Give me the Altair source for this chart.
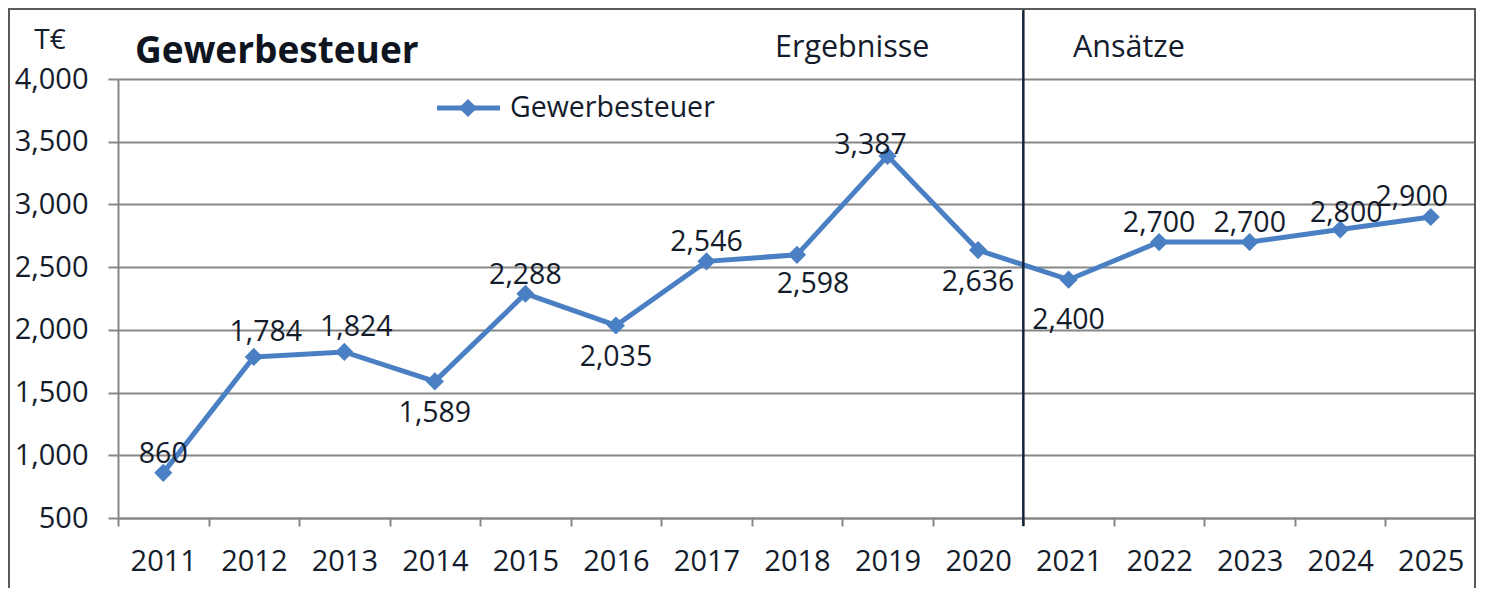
import altair as alt
import pandas as pd

years = ["2011", "2012", "2013", "2014", "2015", "2016", "2017", "2018",
         "2019", "2020", "2021", "2022", "2023", "2024", "2025"]
values = [860, 1784, 1824, 1589, 2288, 2035, 2546, 2598,
          3387, 2636, 2400, 2700, 2700, 2800, 2900]
label_side = ["above", "above_r", "above_r", "below", "above", "below", "above", "below_r",
              "peak", "below", "below_far", "above", "above", "above_s", "left"]
y_ticks = [500, 1000, 1500, 2000, 2500, 3000, 3500, 4000]
series_name = "Gewerbesteuer"
title_text = "Gewerbesteuer"
unit_text = "T€"
split_year = "2021"
left_section = "Ergebnisse"
right_section = "Ansätze"

df = pd.DataFrame({"year": years, "value": values, "side": label_side})

FONT = "Open Sans"
TXT = "#141c2c"
GRID = "#878787"
BLUE = "#4a80c3"

xscale = alt.Scale(type="band", domain=years, paddingInner=0, paddingOuter=0)
yscale = alt.Scale(domain=[500, 4000], nice=False, zero=False)

xaxis = alt.Axis(title=None, tickBand="extent", grid=False, labelAngle=0,
                 labelFont=FONT, labelFontSize=29, labelColor=TXT,
                 labelPadding=21, tickSize=8, tickColor=GRID, tickWidth=2,
                 domainColor=GRID, domainWidth=2)
yaxis = alt.Axis(title=None, values=y_ticks, format=",.0f", grid=True,
                 gridColor=GRID, gridWidth=2, labelFont=FONT, labelFontSize=29,
                 labelColor=TXT, labelPadding=20, tickSize=10, tickColor=GRID,
                 tickWidth=2, domainColor=GRID, domainWidth=2)

base = alt.Chart(df)

xenc = alt.X("year:N", scale=xscale, axis=xaxis, bandPosition=0.5)
yenc = alt.Y("value:Q", scale=yscale, axis=yaxis)

line = base.mark_line(color=BLUE, strokeWidth=5).encode(x=xenc, y=yenc)
pts = base.mark_point(shape="diamond", filled=True, color=BLUE, size=330,
                      opacity=1).encode(x=xenc, y=yenc)

xe = alt.X("year:N", bandPosition=0.5)
ye = alt.Y("value:Q")
lab_kw = dict(font=FONT, fontSize=28.5, color=TXT, baseline="middle")


def labels(side, dx, dy):
    return base.transform_filter(alt.datum.side == side).mark_text(
        dx=dx, dy=dy, **lab_kw).encode(
        x=xe, y=ye, text=alt.Text("value:Q", format=",.0f"))


lab_layers = [
    labels("above", 0, -19),
    labels("above_r", 12, -25),
    labels("above_s", 6, -17),
    labels("below", 0, 32),
    labels("below_r", 16, 29),
    labels("below_far", 0, 40),
    labels("peak", -17, -11),
    labels("left", -19, -20),
]

split = base.transform_filter(alt.datum.year == split_year).mark_rule(
    color="#14233a", strokeWidth=2.5).encode(
    x=alt.X("year:N", bandPosition=0), y=alt.value(-70), y2=alt.value(447))

one = lambda t: alt.Chart(pd.DataFrame({"t": [t]}))

title = one(title_text).mark_text(font=FONT, fontSize=37, fontWeight="bold",
                                  color="#0e1420", align="left", baseline="middle").encode(
    text="t:N", x=alt.value(17), y=alt.value(-27))
unit = one(unit_text).mark_text(font=FONT, fontSize=28, color=TXT, align="center",
                                baseline="middle").encode(
    text="t:N", x=alt.value(-68), y=alt.value(-38))
sec_l = one(left_section).mark_text(font=FONT, fontSize=30.5, color=TXT, align="left",
                                    baseline="middle").encode(
    text="t:N", x=alt.value(657), y=alt.value(-31))
sec_r = one(right_section).mark_text(font=FONT, fontSize=30.5, color=TXT, align="left",
                                     baseline="middle").encode(
    text="t:N", x=alt.value(955), y=alt.value(-31))

leg_line = one(series_name).mark_rule(color=BLUE, strokeWidth=5).encode(
    x=alt.value(319), x2=alt.value(382), y=alt.value(29))
leg_pt = one(series_name).mark_point(shape="diamond", filled=True, color=BLUE,
                                     size=330, opacity=1).encode(
    x=alt.value(350), y=alt.value(29))
leg_txt = one(series_name).mark_text(font=FONT, fontSize=28.5, color=TXT, align="left",
                                     baseline="middle").encode(
    text="t:N", x=alt.value(392), y=alt.value(29))

border = one("b").mark_rect(fill=None, stroke="#5a5a5a", strokeWidth=2).encode(
    x=alt.value(-109), x2=alt.value(1357), y=alt.value(-70), y2=alt.value(560))

chart = alt.layer(
    line, pts, *lab_layers, split,
    title, unit, sec_l, sec_r, leg_line, leg_pt, leg_txt, border
).properties(
    width=1358, height=439,
    padding={"left": 110, "top": 71, "right": 0, "bottom": 70},
    autosize=alt.AutoSizeParams(type="none"),
).configure_view(stroke=None).configure(background="white")

chart.save("out.html", embed_options={"renderer": "svg", "actions": False})
